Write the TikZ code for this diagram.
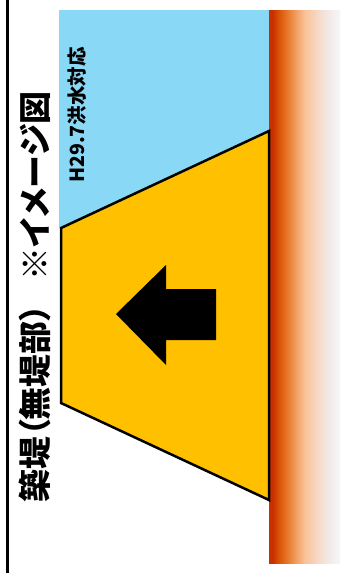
\documentclass[tikz,border=0pt]{standalone}
\usepackage{fontspec}
\newfontfamily\jp{Noto Sans CJK JP}
\newfontfamily\jpp{Noto Sans CJK JP}[RawFeature=+palt]
\definecolor{sky}{HTML}{88D8F6}
\definecolor{gold}{HTML}{FFC000}
\definecolor{ba}{HTML}{C83000}
\definecolor{bb}{HTML}{DA5406}
\definecolor{bc}{HTML}{E67226}
\definecolor{bd}{HTML}{F09858}
\definecolor{be}{HTML}{F8C298}
\definecolor{bf}{HTML}{F6D8C4}
\definecolor{bg}{HTML}{F2EAE8}
\definecolor{bh}{HTML}{F6F6F8}
\pgfdeclarehorizontalshading{bank}{100bp}{color(0bp)=(ba); color(25bp)=(ba); color(27.5bp)=(ba); color(32bp)=(bb); color(37bp)=(bc); color(43bp)=(bd); color(50bp)=(be); color(59bp)=(bf); color(67bp)=(bg); color(75bp)=(bh); color(100bp)=(bh)}
\tikzset{
  title/.style={rotate=90, inner sep=0pt, font=\jpp\bfseries\fontsize{33pt}{35pt}\selectfont},
  subtitle/.style={rotate=90, inner sep=0pt, font=\jp\bfseries\fontsize{19.5pt}{21pt}\selectfont},
  dike/.style={fill=gold, draw=black, line width=2.5pt, line join=miter},
}
\begin{document}
\begin{tikzpicture}[x=1pt, y=-1pt]
\useasboundingbox (0,0) rectangle (342,573);
\fill[white] (0,0) rectangle (342,573);
% water
\fill[sky] (59,10) -- (269,10) -- (269,131) -- (61,228) -- (59,228) -- cycle;
% bank gradient
\shade[shading=bank] (269,10) rectangle (340,563);
% dike
\draw[dike] (61,228) -- (269,131) -- (269,500) -- (61,403) -- cycle;
% arrow
\fill[black] (116,314) -- (166,265) -- (166,289) -- (216,289) -- (216,340) -- (166,340) -- (166,365) -- cycle;
% frame line
\draw[line width=2.5pt] (7.5,0) -- (7.5,573);
% texts
\node[title, anchor=west] (ttl) at (35,503) {築堤（無堤部）\hspace{0.75em}※イメージ図};
\node[subtitle] (sub) at (77,115) {H29.7洪水対応};
\end{tikzpicture}
\end{document}
